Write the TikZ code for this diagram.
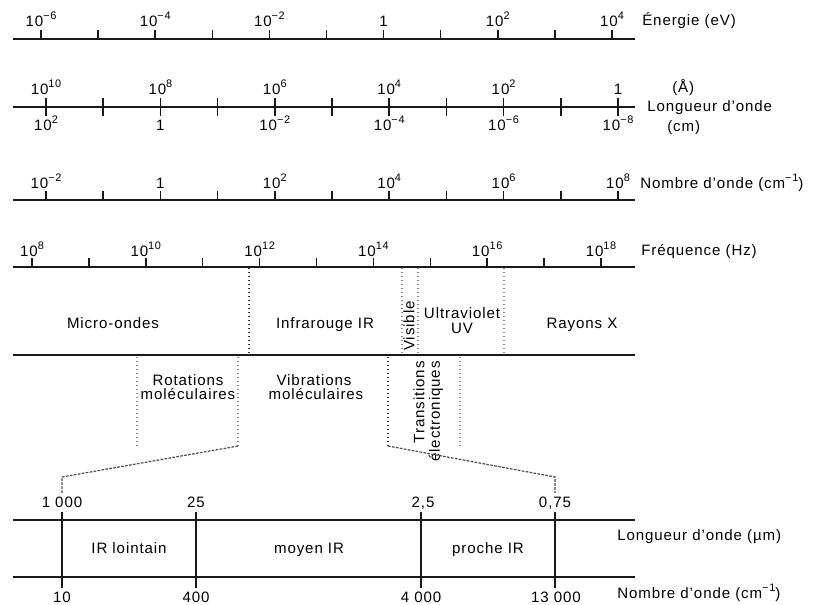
\documentclass[tikz,border=0pt]{standalone}
\usepackage{fontspec}
\setmainfont{Liberation Sans}[LetterSpace=6]
\newcommand\sps[1]{\raisebox{0.42em}{\fontsize{8.2pt}{9pt}\selectfont #1}}
\newcommand\pw[1]{10\sps{#1}}
\begin{document}
\begin{tikzpicture}[x=0.75pt,y=-0.75pt,
  font=\fontsize{11.3pt}{13pt}\selectfont,
  axis/.style={line width=1.2pt,draw=black!90},
  tk/.style={line width=1.1pt,draw=black!90},
  lab/.style={anchor=base,inner sep=0pt},
  rlab/.style={anchor=base west,inner sep=0pt},
  bdot/.style={dotted,line width=1pt,draw=black!80},
  gdot/.style={dotted,line width=1pt,draw=black!45},
  zline/.style={dash pattern=on 2pt off 1pt,line width=0.9pt,draw=black!70}]
\useasboundingbox (0,0) rectangle (816,604);
\fill[white] (0,0) rectangle (816,604);

% ---------- Energy ----------
\draw[axis] (13,39) -- (635,39);
\foreach \i in {0,...,10} \draw[tk] ({41+57.1*\i},30) -- ({41+57.1*\i},39);
\foreach \i/\t in {0/{\pw{−6}},2/{\pw{−4}},4/{\pw{−2}},6/{1},8/{\pw{2}},10/{\pw{4}}}
  \node[lab] (e\i) at ({41+57.1*\i},26) {\t};
\node[rlab] (elab) at (642,25) {Énergie (eV)};

% ---------- Wavelength ----------
\draw[axis] (13,107) -- (635,107);
\foreach \i in {0,...,10} \draw[tk] ({46+57.2*\i},98) -- ({46+57.2*\i},116);
\foreach \i/\t in {0/{\pw{10}},2/{\pw{8}},4/{\pw{6}},6/{\pw{4}},8/{\pw{2}},10/{1}}
  \node[lab] (wa\i) at ({46+57.2*\i},94) {\t};
\foreach \i/\t in {0/{\pw{2}},2/{1},4/{\pw{−2}},6/{\pw{−4}},8/{\pw{−6}},10/{\pw{−8}}}
  \node[lab] (wb\i) at ({46+57.2*\i},130) {\t};
\node[rlab] (wlA) at (672,92) {(Å)};
\node[rlab] (wlB) at (647,111) {Longueur d’onde};
\node[rlab] (wlC) at (667,131) {(cm)};

% ---------- Wavenumber ----------
\draw[axis] (13,200) -- (635,200);
\foreach \i in {0,...,10} \draw[tk] ({46+57.2*\i},191) -- ({46+57.2*\i},200);
\foreach \i/\t in {0/{\pw{−2}},2/{1},4/{\pw{2}},6/{\pw{4}},8/{\pw{6}},10/{\pw{8}}}
  \node[lab] (n\i) at ({46+57.2*\i},188) {\t};
\node[rlab] (nlab) at (640,188) {Nombre d’onde (cm\sps{−1})};

% ---------- Frequency ----------
\draw[axis] (13,267) -- (635,267);
\foreach \i in {0,...,10} \draw[tk] ({32+56.9*\i},258) -- ({32+56.9*\i},267);
\foreach \i/\t in {0/{\pw{8}},2/{\pw{10}},4/{\pw{12}},6/{\pw{14}},8/{\pw{16}},10/{\pw{18}}}
  \node[lab] (f\i) at ({32+56.9*\i},256) {\t};
\node[rlab] (flab) at (641,255) {Fréquence (Hz)};

% ---------- Spectrum domains ----------
\draw[axis] (13,355) -- (635,355);
\draw[bdot] (249,268) -- (249,355);
\draw[gdot] (402,268) -- (402,355);
\draw[gdot] (418,268) -- (418,355);
\draw[gdot] (504,268) -- (504,355);
\node[lab] (mo) at (113,328) {Micro-ondes};
\node[lab] (ir) at (325,328) {Infrarouge IR};
\node[rotate=90,inner sep=0pt] (vis) at (409,326) {Visible};
\node[lab] (uv1) at (462,318) {Ultraviolet};
\node[lab] (uv2) at (462,333) {UV};
\node[lab] (rx) at (582,328) {Rayons X};

% ---------- Molecular processes ----------
\draw[gdot] (137,357) -- (137,446);
\draw[gdot] (238,357) -- (238,446);
\draw[bdot] (388,357) -- (388,446);
\draw[gdot] (460,357) -- (460,448);
\node[lab] (rot1) at (188,385) {Rotations};
\node[lab] (rot2) at (188,399) {moléculaires};
\node[lab] (vib1) at (314,385) {Vibrations};
\node[lab] (vib2) at (316,399) {moléculaires};
\node[rotate=90,anchor=east,inner sep=0pt] (tr1) at (419,361) {Transitions};
\node[rotate=90,anchor=east,inner sep=0pt] (tr2) at (436,361) {électroniques};

% ---------- Zoom connectors ----------
\coordinate (zl0) at (238,446);
\coordinate (zl1) at (62,477);
\coordinate (zl2) at (62,493);
\coordinate (zr0) at (388,446);
\coordinate (zr1) at (555,477);
\coordinate (zr2) at (555,493);
\draw[zline] (zl0) -- (zl1) -- (zl2);
\draw[zline] (zr0) -- (zr1) -- (zr2);

% ---------- IR detail ----------
\draw[axis] (13,520) -- (635,520);
\draw[axis] (13,577) -- (635,577);
\foreach \x in {62,196,421,555} \draw[tk] (\x,512) -- (\x,588);
\node[lab] (t1) at (62,507) {1 000};
\node[lab] (t2) at (196,507) {25};
\node[lab] (t3) at (423,507) {2,5};
\node[lab] (t4) at (555,507) {0,75};
\node[lab] (b1) at (62,602) {10};
\node[lab] (b2) at (196,602) {400};
\node[lab] (b3) at (421,602) {4 000};
\node[lab] (b4) at (556,602) {13 000};
\node[lab] (z1) at (129,553) {IR lointain};
\node[lab] (z2) at (309,553) {moyen IR};
\node[lab] (z3) at (488,553) {proche IR};
\node[rlab] (llab) at (617,540) {Longueur d’onde (µm)};
\node[rlab] (klab) at (617,598) {Nombre d’onde (cm\sps{−1})};
\end{tikzpicture}
\end{document}
